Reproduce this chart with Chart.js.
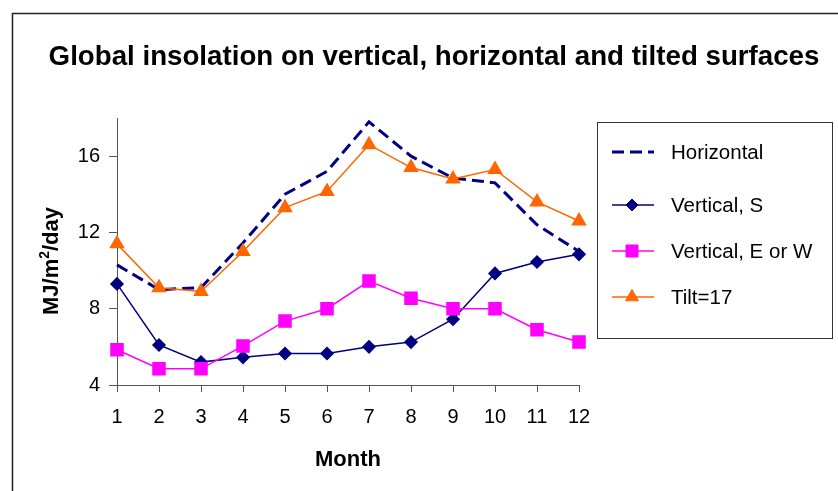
<!DOCTYPE html>
<html><head><meta charset="utf-8">
<script src="https://cdn.jsdelivr.net/npm/chart.js@4/dist/chart.umd.min.js"></script>
<style>html,body{margin:0;padding:0;background:#fff}</style>
</head><body>
<canvas id="c" width="838" height="491" style="display:block;width:838px;height:491px"></canvas>
<script>
const months = ['1','2','3','4','5','6','7','8','9','10','11','12'];
const horizontal = [10.3, 9.0, 9.1, 11.45, 14.0, 15.2, 17.8, 16.0, 14.85, 14.6, 12.4, 11.0];
const verticalS  = [9.3, 6.1, 5.2, 5.45, 5.65, 5.65, 6.0, 6.25, 7.45, 9.85, 10.45, 10.85];
const verticalEW = [5.85, 4.85, 4.85, 6.05, 7.35, 8.0, 9.45, 8.55, 8.0, 8.0, 6.9, 6.25];
const tilt17     = [11.4, 9.1, 8.9, 11.0, 13.3, 14.15, 16.6, 15.4, 14.8, 15.3, 13.6, 12.6];
const yTicks = [4, 8, 12, 16];
const seriesNames = ['Horizontal', 'Vertical, S', 'Vertical, E or W', 'Tilt=17'];
const chartTitle = 'Global insolation on vertical, horizontal and tilted surfaces';
const xTitle = 'Month';
const yTitleParts = ['MJ/m', '2', '/day'];

const FONT = "'Liberation Sans', Arial, sans-serif";
Chart.defaults.font.family = FONT;
Chart.defaults.color = '#000';

const frameLegend = {
  id: 'frameLegend',
  beforeDraw(chart) {
    const ctx = chart.ctx;
    ctx.save();
    ctx.fillStyle = '#fff';
    ctx.fillRect(0, 0, chart.width, chart.height);
    ctx.strokeStyle = '#222';
    ctx.lineWidth = 1.5;
    ctx.strokeRect(12.5, 13.5, chart.width + 20, chart.height + 20);
    // chart title
    ctx.fillStyle = '#000';
    ctx.font = 'bold 27.7px ' + FONT;
    ctx.textAlign = 'center';
    ctx.textBaseline = 'alphabetic';
    ctx.fillText(chartTitle, 434, 65);
    // y axis title with superscript
    ctx.translate(58, 261);
    ctx.rotate(-Math.PI / 2);
    const big = 'bold 22px ' + FONT, small = 'bold 14px ' + FONT;
    ctx.font = big; const w0 = ctx.measureText(yTitleParts[0]).width;
    const w2 = ctx.measureText(yTitleParts[2]).width;
    ctx.font = small; const w1 = ctx.measureText(yTitleParts[1]).width;
    let x = -(w0 + w1 + w2) / 2;
    ctx.textAlign = 'left';
    ctx.font = big; ctx.fillText(yTitleParts[0], x, 0); x += w0;
    ctx.font = small; ctx.fillText(yTitleParts[1], x, -9); x += w1;
    ctx.font = big; ctx.fillText(yTitleParts[2], x, 0);
    ctx.restore();
  },
  afterDraw(chart) {
    const ctx = chart.ctx;
    ctx.save();
    ctx.strokeStyle = '#333';
    ctx.lineWidth = 1;
    ctx.strokeRect(597.5, 122.5, 235, 216);
    const ys = [152, 205, 251, 297];
    chart.data.datasets.forEach((ds, i) => {
      const y = ys[i];
      ctx.save();
      ctx.strokeStyle = ds.borderColor;
      ctx.lineWidth = ds.borderWidth;
      ctx.setLineDash(ds.borderDash || []);
      ctx.beginPath();
      ctx.moveTo(612, y);
      ctx.lineTo(654, y);
      ctx.stroke();
      ctx.restore();
      if (ds.pointRadius > 0) {
        ctx.save();
        ctx.fillStyle = ds.pointBackgroundColor;
        ctx.strokeStyle = ds.pointBorderColor;
        Chart.helpers.drawPoint(ctx, {pointStyle: ds.pointStyle, radius: ds.pointRadius, rotation: 0, borderWidth: 1}, 632, y);
        ctx.restore();
      }
      ctx.fillStyle = '#000';
      ctx.font = '20.5px ' + FONT;
      ctx.textBaseline = 'middle';
      ctx.textAlign = 'left';
      ctx.fillText(ds.label, 671, y + 1);
    });
    ctx.restore();
  }
};

new Chart(document.getElementById('c'), {
  type: 'line',
  data: {
    labels: months,
    datasets: [
      {label: seriesNames[0], data: horizontal, borderColor: '#000080', borderWidth: 3, borderDash: [12, 6],
       pointRadius: 0, pointStyle: 'circle', pointBackgroundColor: '#000080', pointBorderColor: '#000080', tension: 0, order: 4},
      {label: seriesNames[1], data: verticalS, borderColor: '#000080', borderWidth: 1.5,
       pointRadius: 6, pointStyle: 'rectRot', pointBackgroundColor: '#000080', pointBorderColor: '#000080', tension: 0, order: 2},
      {label: seriesNames[2], data: verticalEW, borderColor: '#FF00FF', borderWidth: 1.5,
       pointRadius: 8.5, pointStyle: 'rect', pointBackgroundColor: '#FF00FF', pointBorderColor: '#FF00FF', tension: 0, order: 1},
      {label: seriesNames[3], data: tilt17, borderColor: '#FF6600', borderWidth: 1.5,
       pointRadius: 7.5, pointStyle: 'triangle', pointBackgroundColor: '#FF6600', pointBorderColor: '#FF6600', tension: 0, order: 3}
    ]
  },
  options: {
    responsive: false,
    animation: false,
    layout: {padding: {left: 0, right: 259, top: 118, bottom: 0}},
    plugins: {
      legend: {display: false},
      tooltip: {enabled: false},
      title: {display: false}
    },
    scales: {
      x: {
        type: 'category',
        offset: false,
        grid: {drawOnChartArea: false, drawTicks: true, tickLength: 7, color: '#555', tickColor: '#555'},
        border: {display: true, color: '#555', width: 1},
        ticks: {font: {size: 20}, color: '#000', padding: 13, maxRotation: 0, autoSkip: false},
        title: {display: true, text: xTitle, font: {size: 22, weight: 'bold'}, color: '#000', padding: {top: 0, bottom: 18}},
        afterFit(s) { s.height = 106; }
      },
      y: {
        min: 4, max: 18,
        afterBuildTicks(s) { s.ticks = yTicks.map(v => ({value: v})); },
        grid: {drawOnChartArea: false, drawTicks: true, tickLength: 8, color: '#555', tickColor: '#555'},
        border: {display: true, color: '#555', width: 1},
        ticks: {font: {size: 20}, color: '#000', padding: 9},
        title: {display: false},
        afterFit(s) { s.width = 117; }
      }
    }
  },
  plugins: [frameLegend]
});
</script>
</body></html>
